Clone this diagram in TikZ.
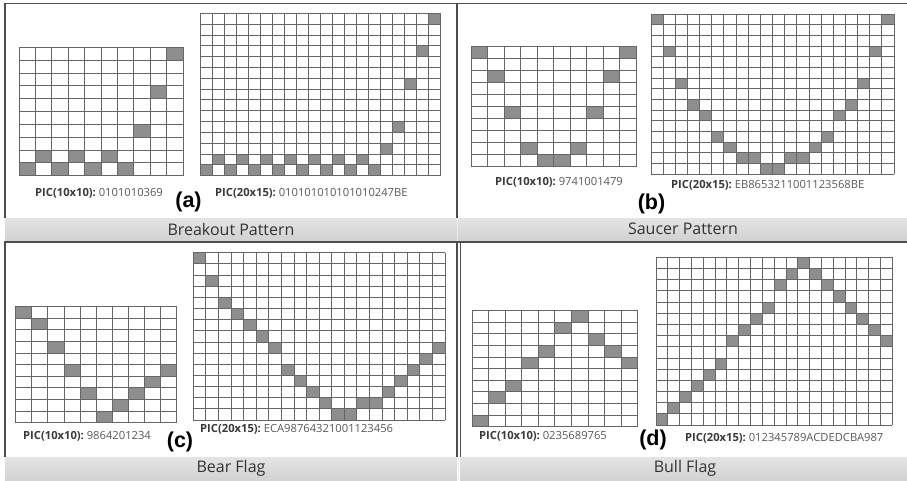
\documentclass[tikz,border=0pt]{standalone}
\usepackage{fontspec}
\newfontfamily\barfont{Open Sans}
\newfontfamily\picfont{Open Sans}
\newfontfamily\labfont{Liberation Sans}
\definecolor{framec}{HTML}{4D4D4D}
\definecolor{gridc}{HTML}{666666}
\definecolor{cellc}{HTML}{8E8E8E}
\definecolor{bartop}{HTML}{E4E4E4}
\definecolor{barbot}{HTML}{D2D2D2}
\definecolor{bartext}{HTML}{333333}
\definecolor{pictext}{HTML}{3A3A3A}
\definecolor{picnum}{HTML}{5A5A5A}
\tikzset{
  gridline/.style={draw=gridc,line width=0.85pt},
  cellfill/.style={fill=cellc,draw=gridc!80!black,line width=0.85pt},
  frameline/.style={draw=framec,line width=1.3pt},
  graybar/.style={top color=bartop,bottom color=barbot,draw=none},
  bartxt/.style={font=\barfont\fontsize{16}{18}\selectfont,text=bartext,inner sep=0pt},
  pictxt/.style={font=\picfont\fontsize{11.2}{13}\selectfont,anchor=west,inner sep=0pt},
  lettxt/.style={font=\labfont\bfseries\fontsize{21.5}{24}\selectfont,text=black,inner sep=0pt},
}
\newcommand\pgrid[7]{%
  \pgfmathsetmacro\cw{(#3-#1)/#5}%
  \pgfmathsetmacro\ch{(#4-#2)/#6}%
  \foreach \v [count=\i from 0] in {#7} {%
    \path[cellfill] ({#1+\i*\cw},{#4-\v*\ch}) rectangle ({#1+(\i+1)*\cw},{#4-(\v+1)*\ch});
  }%
  \foreach \k in {0,...,#5} {\draw[gridline] ({#1+\k*\cw},#2) -- ({#1+\k*\cw},#4);}%
  \foreach \k in {0,...,#6} {\draw[gridline] (#1,{#2+\k*\ch}) -- (#3,{#2+\k*\ch});}%
}
\newcommand\piclab[2]{\textcolor{pictext}{\bfseries PIC(#1):}\ \textcolor{picnum}{#2}}
\begin{document}
\begin{tikzpicture}[x=1pt,y=-1pt]
\useasboundingbox[fill=white] (0,0) rectangle (907,480);
% gray bars
\path[graybar] (5,218) rectangle (457,240);
\path[graybar] (458,218) rectangle (907,240);
\path[graybar] (5,457) rectangle (457,480);
\path[graybar] (460,457) rectangle (907,480);
\draw[white!85!gray,line width=0.6pt] (457.5,218) -- (457.5,240);
\draw[white!85!gray,line width=0.6pt] (458.5,457) -- (458.5,480);
% frames
\draw[frameline] (5,218) -- (5,3.5) -- (907,3.5);
\draw[frameline] (457,3.5) -- (457,218);
\draw[frameline] (5,457) -- (5,242) -- (907,242);
\draw[frameline] (457,242) -- (457,457);
\draw[frameline] (460.5,242) -- (460.5,457);
% grids
\pgrid{19}{47.3}{183}{175.7}{10}{10}{0,1,0,1,0,1,0,3,6,9}
\pgrid{200}{13.3}{440}{175.7}{20}{15}{0,1,0,1,0,1,0,1,0,1,0,1,0,1,0,2,4,8,11,14}
\pgrid{471}{46}{636}{166.7}{10}{10}{9,7,4,1,0,0,1,4,7,9}
\pgrid{651}{14}{894}{174}{20}{15}{14,11,8,6,5,3,2,1,1,0,0,1,1,2,3,5,6,8,11,14}
\pgrid{15.7}{306.7}{176.7}{422.7}{10}{10}{9,8,6,4,2,0,1,2,3,4}
\pgrid{193.3}{252.7}{445}{420}{20}{15}{14,12,10,9,8,7,6,4,3,2,1,0,0,1,1,2,3,4,5,6}
\pgrid{472}{310.7}{637.7}{426.7}{10}{10}{0,2,3,5,6,8,9,7,6,5}
\pgrid{656}{257.3}{892.3}{425}{20}{15}{0,1,2,3,4,5,7,8,9,10,12,13,14,13,12,11,10,9,8,7}
% PIC labels
\node[pictxt] (ta1) at (35,193) {\piclab{10x10}{0101010369}};
\node[pictxt] (ta2) at (215,193) {\piclab{20x15}{010101010101010247BE}};
\node[pictxt] (tb1) at (495,182.7) {\piclab{10x10}{9741001479}};
\node[pictxt] (tb2) at (671,185.7) {\piclab{20x15}{EB8653211001123568BE}};
\node[pictxt] (tc1) at (23,436) {\piclab{10x10}{9864201234}};
\node[pictxt] (tc2) at (200,429.3) {\piclab{20x15}{ECA98764321001123456}};
\node[pictxt] (td1) at (479,436.7) {\piclab{10x10}{0235689765}};
\node[pictxt] (td2) at (685,438.3) {\piclab{20x15}{012345789ACDEDCBA987}};
% letters
\node[lettxt] (la) at (188.5,202) {(a)};
\node[lettxt] (lb) at (651.5,204) {(b)};
\node[lettxt] (lc) at (180,441.7) {(c)};
\node[lettxt] (ld) at (653,440) {(d)};
% bar titles
\node[bartxt] (na) at (231,229) {Breakout Pattern};
\node[bartxt] (nb) at (683,229) {Saucer Pattern};
\node[bartxt] (nc) at (231,468.5) {Bear Flag};
\node[bartxt] (nd) at (685,468.5) {Bull Flag};
\end{tikzpicture}
\end{document}
